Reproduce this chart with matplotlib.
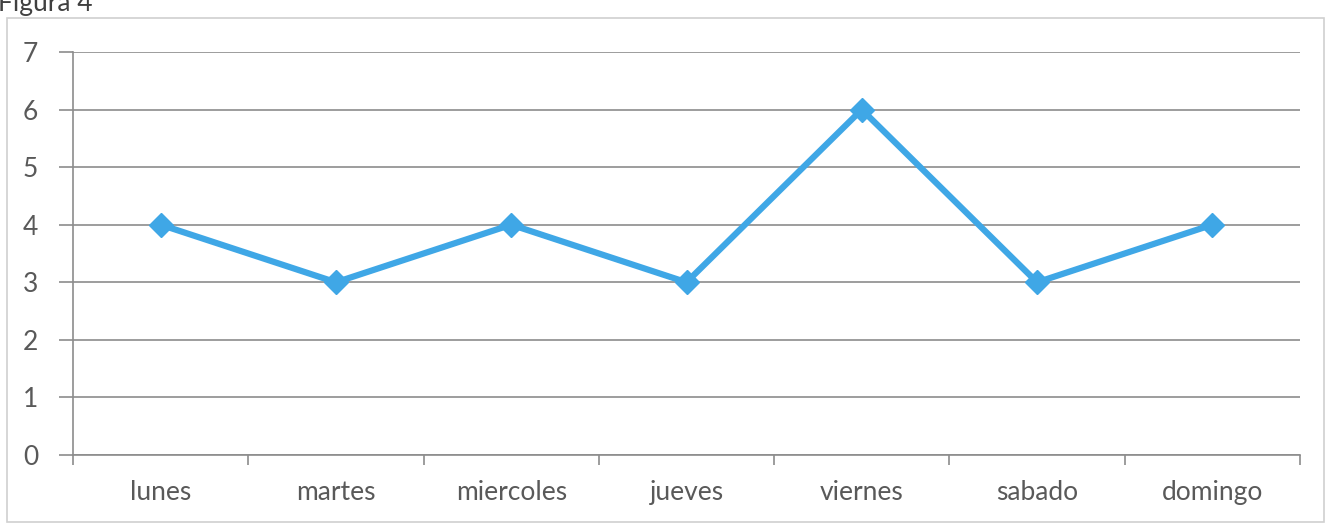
import matplotlib
matplotlib.use("Agg")
import matplotlib.pyplot as plt
from matplotlib.patches import Rectangle

dias = ["lunes", "martes", "miercoles", "jueves", "viernes", "sabado", "domingo"]
valores = [4, 3, 4, 3, 6, 3, 4]
yticks = [0, 1, 2, 3, 4, 5, 6, 7]

plt.rcParams['font.family'] = ['Lato', 'DejaVu Sans']
txt = '#595959'
grid = '#8c8c8c'

fig = plt.figure(figsize=(13.29, 5.27), dpi=100)
W, H = 1329, 527
ax = fig.add_axes([73 / W, 1 - 455 / H, (1300 - 73) / W, (455 - 52) / H])

# outer chart frame
fig.patches.append(Rectangle((7 / W, 1 - 522 / H), (1324 - 7) / W, (522 - 18) / H,
                             transform=fig.transFigure, fill=False,
                             edgecolor='#d0d0d0', linewidth=1.2))
fig.text(-2 / W, 1 - 11 / H, "Figura 4", fontsize=19, color='#404040', va='baseline')

x = list(range(len(dias)))
ax.plot(x, valores, color='#3fa7e6', linewidth=4.5, marker='D', markersize=12,
        markerfacecolor='#3fa7e6', markeredgecolor='#3fa7e6', zorder=3, clip_on=False)

ax.set_xlim(-0.5, len(dias) - 0.5)
ax.set_ylim(0, 7)
ax.set_yticks(yticks)
ax.set_yticklabels([str(v) for v in yticks])
ax.yaxis.grid(True, color=grid, linewidth=1.2)
ax.set_axisbelow(True)

ax.set_xticks([i - 0.5 for i in range(len(dias) + 1)])
ax.set_xticklabels([])
ax.set_xticks(x, minor=True)
ax.set_xticklabels(dias, minor=True)
ax.tick_params(axis='x', which='major', length=7, color=grid, width=1.2, direction='out')
ax.tick_params(axis='x', which='minor', length=0, pad=18, labelsize=19, labelcolor=txt)
ax.tick_params(axis='y', length=10, color=grid, width=1.2, pad=15, labelsize=19, labelcolor=txt)

for s in ['top', 'right']:
    ax.spines[s].set_visible(False)
for s in ['left', 'bottom']:
    ax.spines[s].set_color(grid)
    ax.spines[s].set_linewidth(1.2)

fig.savefig("out.png", dpi=100, facecolor='white')
